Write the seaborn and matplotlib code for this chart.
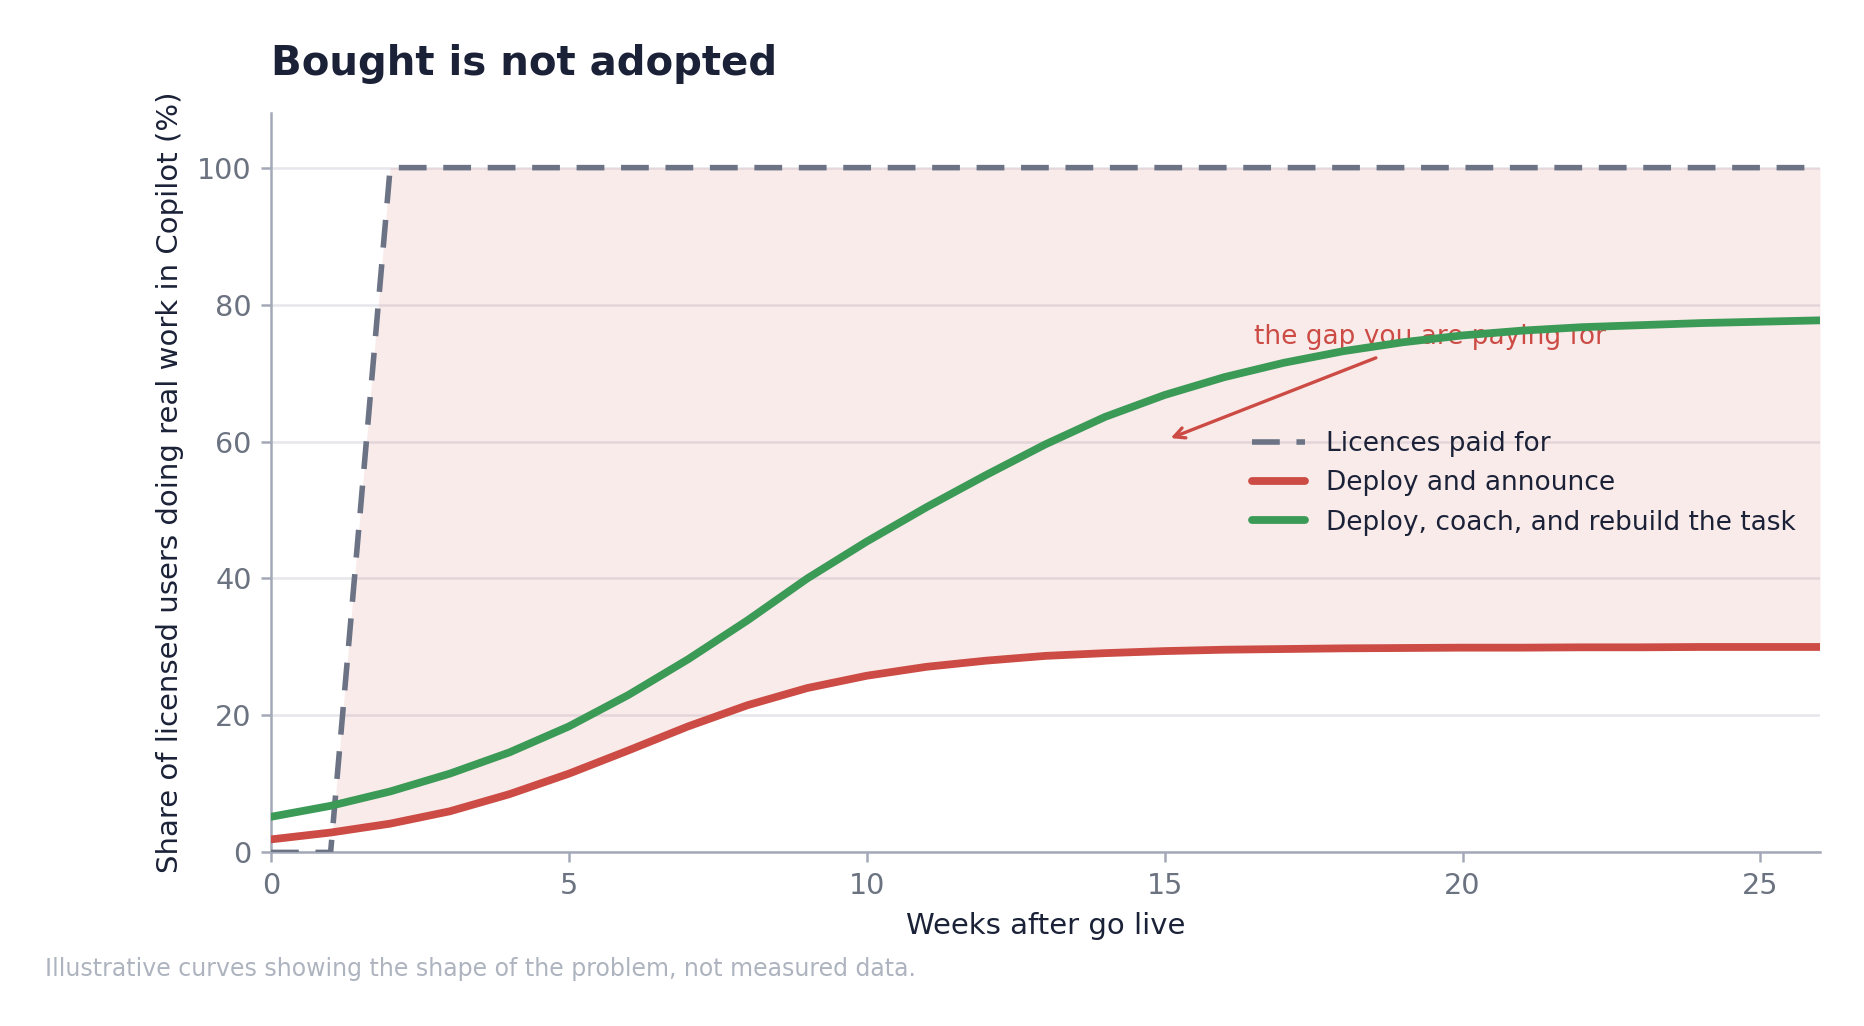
import numpy as np
import pandas as pd
import matplotlib
matplotlib.use("Agg")
import matplotlib.pyplot as plt
import seaborn as sns

weeks = list(range(0, 27))
licences = [0, 0] + [100] * 25
deploy_announce = [1.9, 2.9, 4.2, 6.0, 8.5, 11.5, 14.9, 18.4, 21.5, 24.0, 25.8, 27.1,
                   28.0, 28.7, 29.1, 29.4, 29.6, 29.7, 29.8, 29.85, 29.9, 29.9, 29.95,
                   29.95, 30.0, 30.0, 30.0]
deploy_coach = [5.2, 6.8, 8.9, 11.5, 14.6, 18.4, 23.0, 28.2, 33.9, 40.0, 45.4, 50.4,
                55.1, 59.6, 63.6, 66.8, 69.4, 71.5, 73.2, 74.5, 75.5, 76.2, 76.7,
                77.0, 77.3, 77.5, 77.7]
labels = ["Licences paid for", "Deploy and announce", "Deploy, coach, and rebuild the task"]
title = "Bought is not adopted"
xlabel = "Weeks after go live"
ylabel = "Share of licensed users doing real work in Copilot (%)"
annotation = "the gap you are paying for"
footnote = "Illustrative curves showing the shape of the problem, not measured data."

C_LIC = "#6b7385"
C_RED = "#cc4b44"
C_GREEN = "#3c9a57"
C_DARK = "#1b2238"
C_TICK = "#6b7280"
C_SPINE = "#a3a9b8"

sns.set_theme(style="white")
plt.rcParams["font.family"] = ["DejaVu Sans"]

df = pd.DataFrame({"week": weeks, "lic": licences, "red": deploy_announce, "green": deploy_coach})

fig = plt.figure(figsize=(9.32, 5.13), dpi=200)
ax = fig.add_axes([0.1454, 0.1692, 0.8310, 0.7208])

ax.yaxis.grid(True, color="#e6e7ec", lw=0.9, zorder=0)
ax.set_axisbelow(True)

lic_arr = np.array(licences, dtype=float)
red_arr = np.array(deploy_announce, dtype=float)
ax.fill_between(df["week"], lic_arr, red_arr, where=lic_arr >= red_arr, interpolate=True,
                color=C_RED, alpha=0.11, lw=0, zorder=1)

sns.lineplot(data=df, x="week", y="lic", ax=ax, color=C_LIC, lw=2.0,
             linestyle=(0, (5, 3)), label=labels[0], zorder=3)
sns.lineplot(data=df, x="week", y="red", ax=ax, color=C_RED, lw=2.8, label=labels[1], zorder=4)
sns.lineplot(data=df, x="week", y="green", ax=ax, color=C_GREEN, lw=2.8, label=labels[2], zorder=4)

ax.set_xlim(0, 26)
ax.set_ylim(0, 108)
ax.set_xticks([0, 5, 10, 15, 20, 25])
ax.set_yticks([0, 20, 40, 60, 80, 100])
ax.tick_params(axis="both", labelsize=10.3, labelcolor=C_TICK, colors=C_SPINE,
               length=3.5, width=0.9, bottom=True, left=True, pad=3.5)
for lab in ax.get_xticklabels() + ax.get_yticklabels():
    lab.set_color(C_TICK)
for s in ["top", "right"]:
    ax.spines[s].set_visible(False)
for s in ["left", "bottom"]:
    ax.spines[s].set_color(C_SPINE)
    ax.spines[s].set_linewidth(0.9)

ax.set_xlabel(xlabel, fontsize=10.5, color=C_DARK, labelpad=4.3)
ax.set_ylabel(ylabel, fontsize=10.5, color=C_DARK, labelpad=4.8)
ax.set_title(title, loc="left", fontsize=14.5, fontweight="bold", color=C_DARK, pad=13.7)

ax.annotate(annotation, xy=(15.1, 60.5), xytext=(19.45, 75.3), ha="center", va="center",
            fontsize=9.5, color=C_RED,
            arrowprops=dict(arrowstyle="->", color=C_RED, lw=1.2, shrinkA=2, shrinkB=0))

leg = ax.legend(loc="center left", bbox_to_anchor=(0.618, 0.499), frameon=False,
                fontsize=9.5, handlelength=2.0)
for t in leg.get_texts():
    t.set_color(C_DARK)

fig.text(0.024, 0.0556, footnote, fontsize=8.5, color="#aeb4bf", ha="left", va="center")

fig.savefig("out.png", dpi=200)
